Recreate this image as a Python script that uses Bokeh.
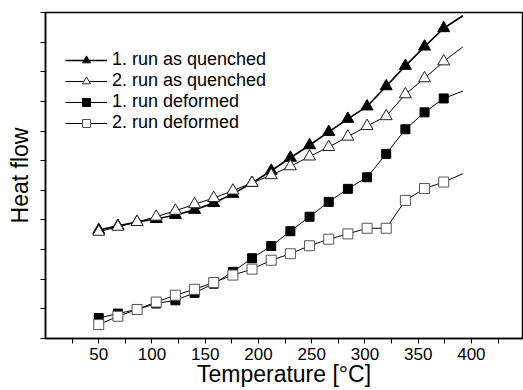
from bokeh.plotting import figure
from bokeh.models import FixedTicker, Range1d, Legend, LegendItem
from bokeh.embed import file_html
from bokeh.resources import INLINE

# Temperatures (°C) of the plotted markers
temps = [50, 68, 86, 104, 122, 140, 158, 176, 194, 212, 230, 248, 266,
         284, 302, 320, 338, 356, 374]
# line end point temperature (curves continue a bit beyond the last marker)
end_temp = 392

# Heat flow (arbitrary units, 1 unit = 1 y-tick spacing)
run1_quenched = [3.66, 3.80, 3.93, 4.03, 4.17, 4.34, 4.57, 4.88, 5.25, 5.66,
                 6.10, 6.52, 6.97, 7.41, 7.83, 8.51, 9.20, 9.85, 10.47]
run1_quenched_end = 10.89
run2_quenched = [3.60, 3.77, 3.93, 4.11, 4.31, 4.53, 4.74, 4.99, 5.25, 5.51,
                 5.81, 6.14, 6.46, 6.81, 7.17, 7.50, 8.24, 8.78, 9.35]
run2_quenched_end = 9.84
run1_deformed = [0.69, 0.84, 0.98, 1.18, 1.29, 1.54, 1.85, 2.25, 2.71, 3.12,
                 3.62, 4.11, 4.61, 5.05, 5.44, 6.23, 7.06, 7.63, 8.10]
run1_deformed_end = 8.35
run2_deformed = [0.47, 0.75, 0.98, 1.23, 1.46, 1.66, 1.89, 2.14, 2.34, 2.64,
                 2.86, 3.13, 3.35, 3.53, 3.72, 3.72, 4.66, 5.06, 5.28]
run2_deformed_end = 5.56

labels = ["1. run as quenched", "2. run as quenched",
          "1. run deformed", "2. run deformed"]

x_major = [50, 100, 150, 200, 250, 300, 350, 400]
x_minor = [25, 75, 125, 175, 225, 275, 325, 375, 425]
y_ticks = list(range(0, 12))

FONT = "Liberation Sans"

p = figure(width=523, height=390, output_backend="svg", toolbar_location=None,
           x_range=Range1d(0, 448), y_range=Range1d(0, 11),
           min_border_left=45, min_border_right=1, min_border_top=12,
           min_border_bottom=52)
p.xgrid.visible = False
p.ygrid.visible = False
p.outline_line_color = "black"
p.outline_line_width = 1.5
p.background_fill_color = "white"
p.border_fill_color = "white"

series = [
    (run1_quenched, run1_quenched_end, "triangle", "black", "black", 1.6, 12),
    (run2_quenched, run2_quenched_end, "triangle", "white", "#222222", 1.0, 12),
    (run1_deformed, run1_deformed_end, "square", "black", "black", 1.0, 9),
    (run2_deformed, run2_deformed_end, "square", "white", "#555555", 1.0, 10),
]

items = []
for (vals, endv, marker, fill, edge, lw, size), lab in zip(series, labels):
    lr = p.line(temps + [end_temp], vals + [endv], line_color="black", line_width=lw)
    sr = p.scatter(temps, vals, marker=marker, size=size, fill_color=fill,
                   line_color=edge, line_width=1)
    items.append(LegendItem(label=lab, renderers=[lr, sr]))

legend = Legend(items=items, location=(20, 205), padding=0, margin=0,
                spacing=0, glyph_width=42, glyph_height=20, label_height=20,
                label_standoff=5, background_fill_alpha=0, border_line_alpha=0,
                label_text_font=FONT, label_text_font_size="18px",
                label_text_color="black")
p.add_layout(legend)

xa = p.xaxis[0]
xa.ticker = FixedTicker(ticks=x_major, minor_ticks=x_minor)
xa.axis_label = "Temperature [°C]"
xa.axis_label_text_font = FONT
xa.axis_label_text_font_size = "23px"
xa.axis_label_text_font_style = "normal"
xa.axis_label_text_color = "black"
xa.axis_label_standoff = -2
xa.major_label_text_font = FONT
xa.major_label_text_font_size = "17px"
xa.major_label_text_color = "black"
xa.major_label_standoff = 4
xa.major_tick_out = 5
xa.major_tick_in = 0
xa.minor_tick_out = 5
xa.minor_tick_in = 0
xa.axis_line_width = 1.5

ya = p.yaxis[0]
ya.ticker = FixedTicker(ticks=y_ticks, minor_ticks=[])
ya.major_label_overrides = {t: "" for t in y_ticks}
ya.major_label_text_font_size = "0px"
ya.major_label_standoff = 0
ya.axis_label = "Heat flow"
ya.axis_label_text_font = FONT
ya.axis_label_text_font_size = "23px"
ya.axis_label_text_font_style = "normal"
ya.axis_label_text_color = "black"
ya.axis_label_standoff = 8
ya.major_tick_out = 5
ya.major_tick_in = 0
ya.axis_line_width = 1.5

open("out.html", "w").write(file_html(p, INLINE))
